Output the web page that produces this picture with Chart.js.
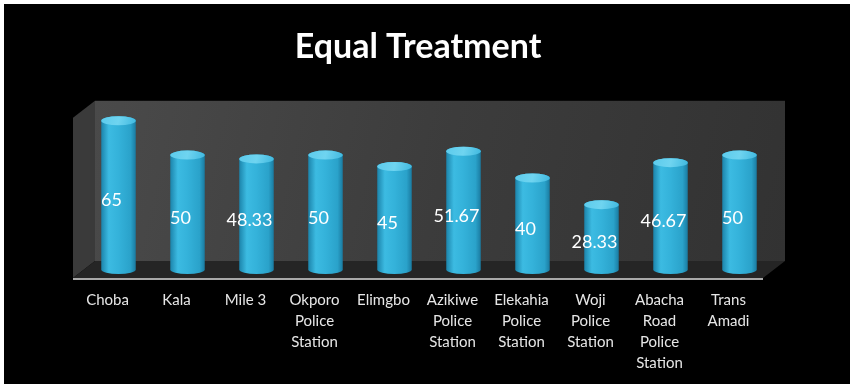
<!DOCTYPE html>
<html lang="en">
<head>
<meta charset="UTF-8">
<title>Equal Treatment</title>
<script src="https://cdn.jsdelivr.net/npm/chart.js"></script>
<style>
  html, body { margin: 0; padding: 0; background: #fff; }
  #wrap { position: absolute; left: 4px; top: 4px; width: 846px; height: 380px; background: #000; }
</style>
</head>
<body>
<div id="wrap"><canvas id="chart"></canvas></div>
<script>
const stations = [
  ['Choba'], ['Kala'], ['Mile 3'], ['Okporo', 'Police', 'Station'], ['Elimgbo'],
  ['Azikiwe', 'Police', 'Station'], ['Elekahia', 'Police', 'Station'],
  ['Woji', 'Police', 'Station'], ['Abacha', 'Road', 'Police', 'Station'], ['Trans', 'Amadi']
];
const scores = [65, 50, 48.33, 50, 45, 51.67, 40, 28.33, 46.67, 50];
const yMin = 0;
const yMax = 70;

// depth of the 3D box (px)
const DX = 22;
const DY = 17;

const boxPlugin = {
  id: 'box3d',
  beforeDatasetsDraw(chart) {
    const { ctx } = chart;
    const { left, right, top, bottom } = chart.chartArea;
    ctx.save();
    // back wall
    let g = ctx.createLinearGradient(left + DX, top - DY, right + DX, bottom - DY);
    g.addColorStop(0, '#4a4a4a');
    g.addColorStop(0.5, '#3c3c3c');
    g.addColorStop(1, '#323232');
    ctx.fillStyle = g;
    ctx.fillRect(left + DX, top - DY, right - left, bottom - top);
    // left wall
    ctx.beginPath();
    ctx.moveTo(left, top);
    ctx.lineTo(left + DX, top - DY);
    ctx.lineTo(left + DX, bottom - DY);
    ctx.lineTo(left, bottom);
    ctx.closePath();
    ctx.fillStyle = '#3a3a3a';
    ctx.fill();
    // floor
    ctx.beginPath();
    ctx.moveTo(left, bottom);
    ctx.lineTo(left + DX, bottom - DY);
    ctx.lineTo(right + DX, bottom - DY);
    ctx.lineTo(right, bottom);
    ctx.closePath();
    ctx.fillStyle = '#252525';
    ctx.fill();
    // front edge of the floor
    ctx.strokeStyle = '#a8a8a8';
    ctx.lineWidth = 2;
    ctx.beginPath();
    ctx.moveTo(left, bottom + 1);
    ctx.lineTo(right, bottom + 1);
    ctx.stroke();
    ctx.restore();
  },
  afterDatasetsDraw(chart) {
    const { ctx } = chart;
    const meta = chart.getDatasetMeta(0);
    ctx.save();
    meta.data.forEach((bar, i) => {
      const cx = bar.x + DX / 2;
      const rx = bar.width / 2;
      const ry = 4.5;
      const x0 = cx - rx, x1 = cx + rx;
      const yTop = bar.y - DY / 2;
      const yBase = bar.base - DY / 2;

      const body = ctx.createLinearGradient(x0, 0, x1, 0);
      body.addColorStop(0, '#1c84ab');
      body.addColorStop(0.22, '#3cbbe2');
      body.addColorStop(0.5, '#34b2da');
      body.addColorStop(0.85, '#2aa2ca');
      body.addColorStop(1, '#1a7ba1');
      ctx.beginPath();
      ctx.moveTo(x0, yTop);
      ctx.lineTo(x0, yBase);
      ctx.ellipse(cx, yBase, rx, ry, 0, Math.PI, 0, true);
      ctx.lineTo(x1, yTop);
      ctx.ellipse(cx, yTop, rx, ry, 0, 0, Math.PI, true);
      ctx.closePath();
      ctx.fillStyle = body;
      ctx.fill();

      const cap = ctx.createLinearGradient(x0, yTop - ry, x1, yTop + ry);
      cap.addColorStop(0, '#5ccbec');
      cap.addColorStop(0.5, '#6fd4f0');
      cap.addColorStop(1, '#3fb8df');
      ctx.beginPath();
      ctx.ellipse(cx, yTop, rx, ry, 0, 0, Math.PI * 2);
      ctx.fillStyle = cap;
      ctx.fill();

      // value label
      ctx.fillStyle = '#ffffff';
      ctx.font = '18px Lato';
      ctx.textAlign = 'center';
      ctx.textBaseline = 'middle';
      ctx.fillText(String(scores[i]), bar.x + 4, (bar.y + bar.base) / 2 - 3);
    });
    ctx.restore();
  }
};

new Chart(document.getElementById('chart'), {
  type: 'bar',
  data: {
    labels: stations,
    datasets: [{
      data: scores,
      backgroundColor: 'rgba(0,0,0,0)',
      borderWidth: 0,
      barPercentage: 0.5,
      categoryPercentage: 1
    }]
  },
  options: {
    responsive: true,
    maintainAspectRatio: false,
    animation: false,
    layout: { padding: { left: 69, right: 87, top: 0, bottom: 0 } },
    plugins: {
      legend: { display: false },
      tooltip: { enabled: false },
      title: {
        display: true,
        text: 'Equal Treatment',
        color: '#ffffff',
        font: { family: 'Lato', size: 34, weight: 'bold' },
        padding: { top: 23, bottom: 50 }
      }
    },
    scales: {
      x: {
        grid: { display: false, drawTicks: false },
        border: { display: false },
        ticks: {
          color: '#e6e6e6',
          font: { family: 'Lato', size: 15, lineHeight: 1.4 },
          padding: 12,
          maxRotation: 0,
          autoSkip: false
        },
        afterFit(scale) { scale.height = 106; }
      },
      y: { display: false, min: yMin, max: yMax }
    }
  },
  plugins: [boxPlugin]
});
</script>
</body>
</html>
